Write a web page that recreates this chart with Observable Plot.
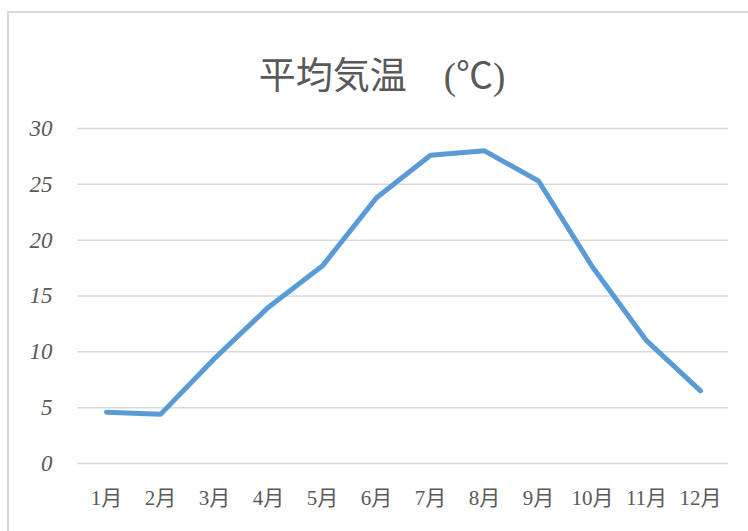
<!DOCTYPE html>
<html>
<head>
<meta charset="utf-8">
<script src="https://cdn.jsdelivr.net/npm/d3@7"></script>
<script src="https://cdn.jsdelivr.net/npm/@observablehq/plot@0.6"></script>
<style>
  html, body { margin: 0; padding: 0; background: #fff; overflow: hidden; }
  #wrap { position: relative; width: 748px; height: 531px; overflow: hidden; }
  #border { position: absolute; left: 7px; top: 11px; width: 800px; height: 600px; border: 2px solid #d9d9d9; box-sizing: border-box; }
  #chart { position: absolute; left: 0; top: 0; }
</style>
</head>
<body>
<div id="wrap"><div id="border"></div><div id="chart"></div></div>
<script>
const months = ["1月","2月","3月","4月","5月","6月","7月","8月","9月","10月","11月","12月"];
const temps = [4.6, 4.4, 9.4, 14.0, 17.7, 23.8, 27.6, 28.0, 25.3, 17.6, 11.0, 6.5];
const yTicks = [0, 5, 10, 15, 20, 25, 30];
const title = "平均気温　(℃)";

const data = months.map((m, i) => ({month: m, temp: temps[i]}));
const fam = "'Liberation Serif', 'Noto Sans CJK JP', serif";

const chart = Plot.plot({
  width: 748,
  height: 531,
  marginLeft: 77,
  marginRight: 20,
  marginTop: 128,
  marginBottom: 68,
  style: {background: "transparent", fontFamily: fam, color: "#595959", overflow: "visible"},
  x: {type: "point", domain: months, padding: 0.5, label: null},
  y: {domain: [0, 30], label: null},
  marks: [
    Plot.gridY(yTicks, {stroke: "#d9d9d9", strokeOpacity: 1, strokeWidth: 1.5}),
    Plot.axisY(yTicks, {tickSize: 0, tickPadding: 25, fontSize: 23, fontStyle: "italic", fill: "#595959", label: null}),
    Plot.axisX(months, {tickSize: 0, tickPadding: 27, fontSize: 21, fill: "#595959", label: null}),
    Plot.line(data, {x: "month", y: "temp", stroke: "#5B9BD5", strokeWidth: 5, strokeLinecap: "round", strokeLinejoin: "round"}),
    Plot.text([title], {text: d => d, frameAnchor: "top", dx: -21, dy: -66, fontSize: 37, fill: "#595959", fontFamily: fam})
  ]
});
document.getElementById("chart").appendChild(chart);
</script>
</body>
</html>
